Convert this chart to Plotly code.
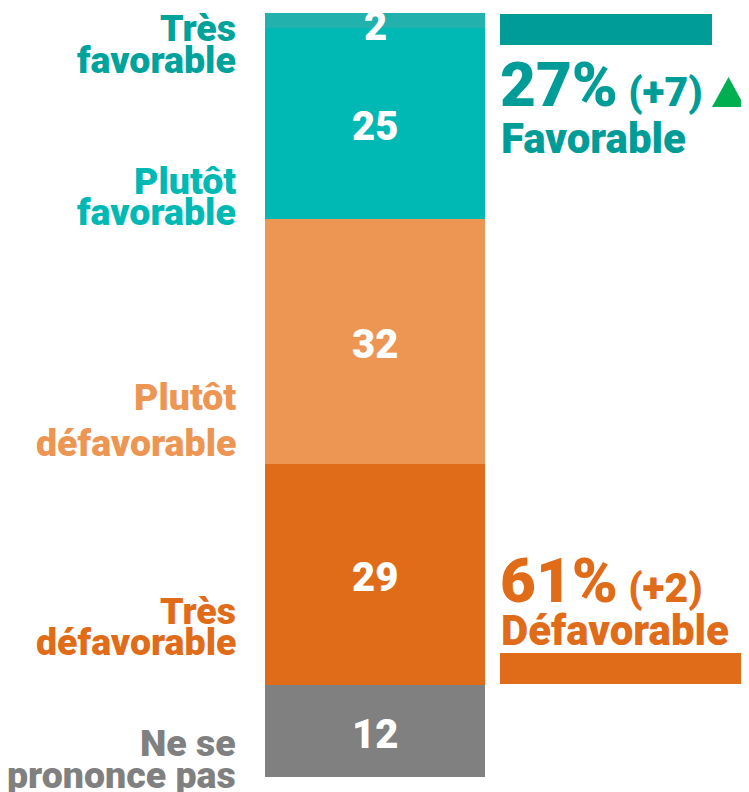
import plotly.graph_objects as go

# la page ajoute une marge de 8 px autour de la figure
DECALAGE = 8
W, H = 749 - DECALAGE, 792 - DECALAGE

# segments, bas -> haut
categories = ["Ne se prononce pas", "Très défavorable", "Plutôt défavorable",
              "Plutôt favorable", "Très favorable"]
valeurs = [12, 29, 32, 25, 2]

# totaux à droite
groupes = ["Favorable", "Défavorable"]
totaux = [27, 61]
evolutions = ["+7", "+2"]

COULEURS = {
    "Ne se prononce pas": "#808080",
    "Très défavorable": "#e06c1a",
    "Plutôt défavorable": "#ed9552",
    "Plutôt favorable": "#00b9b4",
    "Très favorable": "#22b1ad",
}
COULEURS_LABEL = {
    "Ne se prononce pas": "#808080",
    "Très défavorable": "#e06c1a",
    "Plutôt défavorable": "#ed9552",
    "Plutôt favorable": "#00b9b4",
    "Très favorable": "#00a29c",
}
TEAL = "#009c98"
ORANGE = "#e06c1a"
VERT = "#00b050"

# lignes des libellés de gauche (centre vertical en pixels)
LIGNES = {
    "Très favorable": [("Très", 28), ("favorable", 60)],
    "Plutôt favorable": [("Plutôt", 181), ("favorable", 212)],
    "Plutôt défavorable": [("Plutôt", 397), ("défavorable", 443)],
    "Très défavorable": [("Très", 611), ("défavorable", 642)],
    "Ne se prononce pas": [("Ne se", 743), ("prononce pas", 775)],
}


def px(x):
    return (x - DECALAGE) / W


def py(y):
    return 1 - (y - DECALAGE) / H


POLICE = dict(family="Roboto", weight=900)

fig = go.Figure()
base = 0
for cat, val in zip(categories, valeurs):
    fig.add_trace(go.Bar(
        x=[0], y=[val], name=cat, width=1,
        marker=dict(color=COULEURS[cat], line_width=0),
        hovertemplate=f"<b>{cat}</b>: %{{y}}%<extra></extra>",
    ))
    # chiffre au centre du segment (un peu plus bas, comme l'original)
    fig.add_annotation(
        text=str(val), x=0, y=base + val / 2, xref="x", yref="y",
        showarrow=False, yanchor="middle", yshift=-6 if val < 5 else -3,
        font=dict(color="white", size=40, **POLICE),
    )
    base += val

for cat, lignes in LIGNES.items():
    for txt, y in lignes:
        fig.add_annotation(
            text=txt, x=px(238), y=py(y), xref="paper", yref="paper",
            xanchor="right", yanchor="middle", showarrow=False,
            font=dict(size=37.5, color=COULEURS_LABEL[cat], **POLICE),
        )

# blocs de totaux
for groupe, total, evo, coul, y_chiffre, y_mot in zip(
        groupes, totaux, evolutions, [TEAL, ORANGE], [85, 580], [138, 630]):
    fig.add_annotation(
        text=f"{total}%<span style='font-size:41px'> ({evo})</span>",
        x=px(498), y=py(y_chiffre), xref="paper", yref="paper",
        xanchor="left", yanchor="middle", showarrow=False,
        font=dict(size=62, color=coul, **POLICE),
    )
    fig.add_annotation(
        text=groupe, x=px(499), y=py(y_mot), xref="paper", yref="paper",
        xanchor="left", yanchor="middle", showarrow=False,
        font=dict(size=42, color=coul, **POLICE),
    )

fig.add_shape(type="rect", xref="paper", yref="paper",
              x0=px(500), x1=px(712), y0=py(14), y1=py(45),
              fillcolor=TEAL, line_width=0)
fig.add_shape(type="rect", xref="paper", yref="paper",
              x0=px(500), x1=px(741), y0=py(653), y1=py(684),
              fillcolor=ORANGE, line_width=0)
fig.add_shape(type="path", xref="paper", yref="paper",
              path=f"M {px(712)} {py(107)} L {px(745)} {py(107)} L {px(728.5)} {py(77)} Z",
              fillcolor=VERT, line_width=0)

fig.update_layout(
    width=W, height=H,
    margin=dict(l=0, r=0, t=0, b=0),
    barmode="stack", bargap=0,
    showlegend=False,
    paper_bgcolor="white", plot_bgcolor="white",
    xaxis=dict(visible=False, range=[-0.5, 0.5], domain=[px(265), px(485)]),
    yaxis=dict(visible=False, range=[0, 100], domain=[py(777), py(13)]),
)

fig.write_html("out.html")
